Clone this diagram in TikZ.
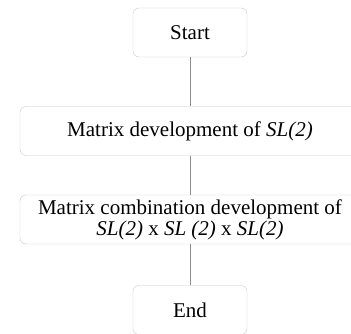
\documentclass[tikz,border=0pt]{standalone}
\usepackage{fontspec}
\setmainfont{Liberation Serif}
\begin{document}
\begin{tikzpicture}[x=1pt,y=-1pt]
% Styles for the boxes and links
\tikzset{stepbox/.style={draw=black!22, rounded corners=6pt, minimum height=49pt, inner sep=0pt, align=center, font=\fontsize{21}{21}\selectfont},
  link/.style={draw=black!45, line width=0.6pt}}

% Frame of the picture (boxes run past the right and bottom edge)
\useasboundingbox (0,0) rectangle (351,333);
\clip (0,0) rectangle (351,333);

% Boxes
\node[stepbox, minimum width=114pt] (start) at (190, 32.5) {Start};
\node[stepbox, minimum width=340pt] (dev) at (190, 131) {Matrix development of \textit{SL(2)}};
\node[stepbox, minimum width=340pt] (comb) at (190, 219.5) {Matrix combination development of\\ \textit{SL(2)} x \textit{SL (2)} x \textit{SL(2)}};
\node[stepbox, minimum width=114pt] (stop) at (190, 310) {End};

% Links
\draw[link] (start) -- (dev);
\draw[link] (dev) -- (comb);
\draw[link] (comb) -- (stop);
\end{tikzpicture}
\end{document}
